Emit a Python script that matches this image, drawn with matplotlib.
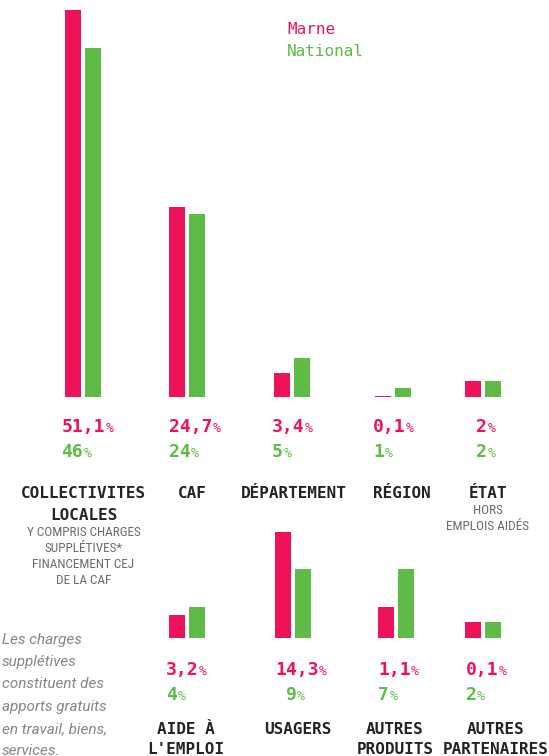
import matplotlib
matplotlib.use("Agg")
import matplotlib.pyplot as plt
from matplotlib import font_manager

# hauteurs des barres (en %)
top_marne = [51.0, 25.0, 3.1, 0.13, 2.1]
top_national = [46.0, 24.1, 5.1, 1.1, 2.1]
bot_marne = [3.0, 14.0, 4.1, 2.1]
bot_national = [4.1, 9.1, 9.1, 2.1]

# libelles des valeurs
top_marne_lbl = ["51,1", "24,7", "3,4", "0,1", "2"]
top_nat_lbl = ["46", "24", "5", "1", "2"]
bot_marne_lbl = ["3,2", "14,3", "1,1", "0,1"]
bot_nat_lbl = ["4", "9", "7", "2"]

top_heads = [["COLLECTIVITES", "LOCALES"], ["CAF"], ["DÉPARTEMENT"], ["RÉGION"], ["ÉTAT"]]
top_subs = [["Y COMPRIS CHARGES", "SUPPLÉTIVES*", "FINANCEMENT CEJ", "DE LA CAF"], [], [], [], ["HORS", "EMPLOIS AIDÉS"]]
bot_heads = [["AIDE À", "L'EMPLOI"], ["USAGERS"], ["AUTRES", "PRODUITS"], ["AUTRES", "PARTENAIRES"]]
note = ["Les charges", "supplétives", "constituent des", "apports gratuits", "en travail, biens,", "services."]

PINK = "#EE1358"
GREEN = "#5EBB46"
DARK = "#232323"
GRAY = "#6a6a6a"
MONO = "DejaVu Sans Mono"

installed = {f.name for f in font_manager.fontManager.ttflist}
SANS = "Roboto"
for cand in ["Roboto Condensed", "Liberation Sans Narrow", "Open Sans Condensed"]:
    if cand in installed:
        SANS = cand
        break

W, H = 549, 756
PX = 7.58  # pixels par %

# mise en page (pixels)
top_cx = [83, 186.5, 292, 393, 482.5]
bot_cx = [187, 293, 395.5, 482.5]
top_base, bot_base, bot_top = 396.5, 638, 520
top_head_x = [83.5, 192, 294, 402, 488]
bot_head_x = [186, 298, 395, 496]
top_comma = [83.3, 190.7, 282.9, 383.9, 486.9]
bot_comma = [176.9, 296.7, 388.9, 476.4]

fig = plt.figure(figsize=(W / 100, H / 100), dpi=100)

ax_top = fig.add_axes([0, (H - top_base) / H, 1, top_base / H])
ax_top.set_xlim(0, W)
ax_top.set_ylim(0, top_base / PX)
ax_top.bar([c - 10 for c in top_cx], top_marne, width=16, color=PINK)
ax_top.bar([c + 10 for c in top_cx], top_national, width=16, color=GREEN)
ax_top.axis("off")

ax_bot = fig.add_axes([0, (H - bot_base) / H, 1, (bot_base - bot_top) / H])
ax_bot.set_xlim(0, W)
ax_bot.set_ylim(0, (bot_base - bot_top) / PX)
ax_bot.bar([c - 10 for c in bot_cx], bot_marne, width=16, color=PINK)
ax_bot.bar([c + 10 for c in bot_cx], bot_national, width=16, color=GREEN)
ax_bot.axis("off")

tx = fig.add_axes([0, 0, 1, 1])
tx.set_xlim(0, W)
tx.set_ylim(H, 0)
tx.axis("off")

cw = 0.602 * 13 * 100 / 72


def value(x, y, s, color):
    start = x - len(s.split(",")[0]) * cw
    tx.text(start, y, s, ha="left", va="baseline", color=color,
            family=MONO, fontsize=13, fontweight="bold")
    tx.text(start + len(s) * cw + 0.5, y, "%", ha="left", va="baseline",
            color=color, family=MONO, fontsize=9.5)


for i in range(5):
    value(top_comma[i], 432, top_marne_lbl[i], PINK)
    value(top_comma[i], 457, top_nat_lbl[i], GREEN)
    for j, line in enumerate(top_heads[i]):
        tx.text(top_head_x[i], 498 + 22.5 * j, line, ha="center", va="baseline",
                color=DARK, family=MONO, fontsize=11.5, fontweight="bold")
    y0 = 498 + 22.5 * (len(top_heads[i]) - 1) + 16
    for j, line in enumerate(top_subs[i]):
        tx.text(top_head_x[i], y0 + 16 * j, line, ha="center", va="baseline",
                color=GRAY, family=SANS, fontsize=9.5)

for i in range(4):
    value(bot_comma[i], 675, bot_marne_lbl[i], PINK)
    value(bot_comma[i], 700.5, bot_nat_lbl[i], GREEN)
    for j, line in enumerate(bot_heads[i]):
        tx.text(bot_head_x[i], 734 + 20.5 * j, line, ha="center", va="baseline",
                color=DARK, family=MONO, fontsize=11.5, fontweight="bold")

for j, line in enumerate(note):
    tx.text(2, 644 + 22.2 * j, line, ha="left", va="baseline", color="#858585",
            family="Roboto", fontsize=11, fontstyle="italic")

tx.text(287, 34, "Marne", color=PINK, family=MONO, fontsize=11.5, va="baseline")
tx.text(287, 56, "National", color=GREEN, family=MONO, fontsize=11.5, va="baseline")

fig.savefig("out.png", dpi=100)
